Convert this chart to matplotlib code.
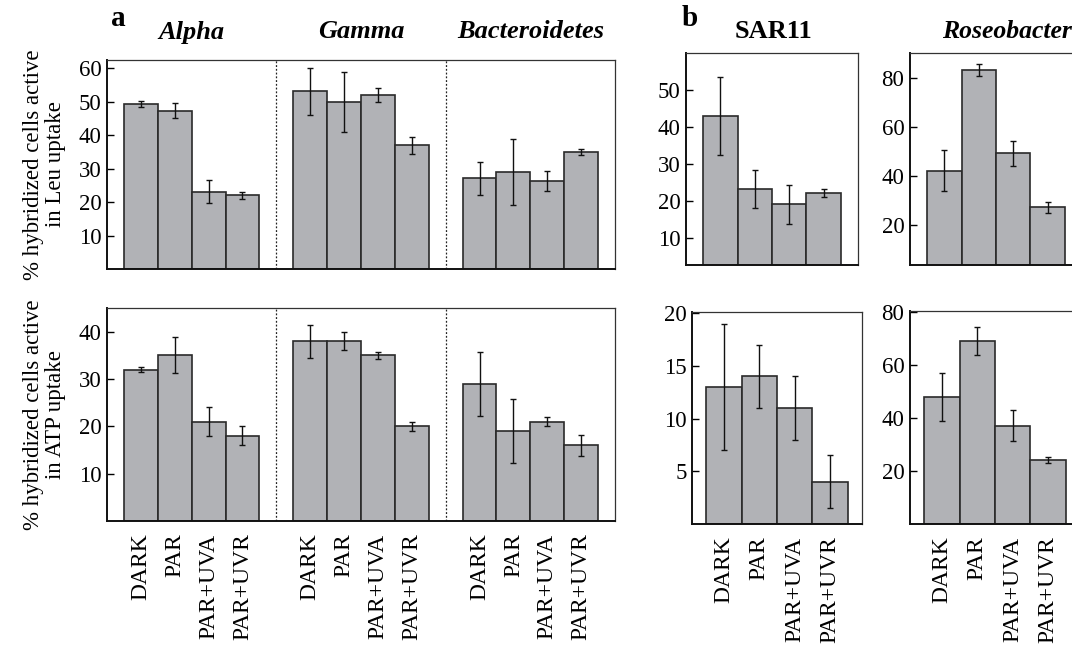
import numpy as np
import matplotlib
matplotlib.use("Agg")
import matplotlib.pyplot as plt
import matplotlib.transforms as mtransforms

plt.rcParams['font.family'] = ['Liberation Serif', 'DejaVu Serif']

# ---------------- data ----------------
treatments = ['DARK', 'PAR', 'PAR+UVA', 'PAR+UVR']
groups_a = ['Alpha', 'Gamma', 'Bacteroidetes']

leu_alpha = [49.3, 47.3, 23.1, 22.0]
leu_alpha_err = [1.0, 2.2, 3.5, 1.0]
leu_gamma = [53.2, 50.0, 52.0, 37.0]
leu_gamma_err = [7.0, 9.0, 2.0, 2.5]
leu_bact = [27.1, 29.0, 26.2, 35.0]
leu_bact_err = [5.0, 10.0, 3.0, 0.8]

atp_alpha = [32.0, 35.0, 21.0, 18.0]
atp_alpha_err = [0.6, 3.8, 3.0, 2.0]
atp_gamma = [38.0, 38.0, 35.0, 20.0]
atp_gamma_err = [3.5, 1.9, 0.7, 1.0]
atp_bact = [29.0, 19.0, 21.0, 16.0]
atp_bact_err = [6.8, 6.8, 1.0, 2.2]

leu_sar11 = [43.0, 23.1, 19.0, 22.1]
leu_sar11_err = [10.5, 5.1, 5.2, 1.2]
leu_roseo = [42.0, 83.0, 49.0, 27.0]
leu_roseo_err = [8.5, 2.4, 5.0, 2.2]

atp_sar11 = [13.0, 14.0, 11.0, 4.0]
atp_sar11_err = [6.0, 3.0, 3.0, 2.5]
atp_roseo = [48.0, 69.2, 37.2, 24.2]
atp_roseo_err = [9.2, 5.2, 5.9, 1.3]

# ---------------- style ----------------
BAR_COLOR = '#b1b2b6'
EDGE = '#2a2a2a'
W, H = 1072, 646

fig = plt.figure(figsize=(W / 100, H / 100), dpi=100)


def ax_px(x0, y0, x1, y1):
    return fig.add_axes([x0 / W, 1 - y1 / H, (x1 - x0) / W, (y1 - y0) / H])


def style(ax):
    for s in ['top', 'right']:
        ax.spines[s].set_linewidth(0.9)
        ax.spines[s].set_color('#333333')
    for s in ['left', 'bottom']:
        ax.spines[s].set_linewidth(1.4)
        ax.spines[s].set_color('#111111')
    ax.tick_params(axis='y', direction='in', length=5, width=1, labelsize=16.5, pad=4)
    ax.tick_params(axis='x', length=0, labelsize=17, pad=9)


def bars(ax, x, vals, errs):
    ax.bar(x, vals, width=1.0, color=BAR_COLOR, edgecolor=EDGE, linewidth=1.2, zorder=2)
    ax.errorbar(x, vals, yerr=errs, fmt='none', ecolor='#111111', elinewidth=1.0,
                capsize=2, capthick=1.0, zorder=3)


# ---------------- panel a ----------------
pos = [g * 5 + np.arange(4) for g in range(3)]
ax_top = ax_px(107, 60, 615, 269)
ax_bot = ax_px(107, 308, 615, 521)

for ax, series, ylim, yticks, lab in [
    (ax_top, [(leu_alpha, leu_alpha_err), (leu_gamma, leu_gamma_err), (leu_bact, leu_bact_err)],
     (0, 62.5), [10, 20, 30, 40, 50, 60], '% hybridized cells active\nin Leu uptake'),
    (ax_bot, [(atp_alpha, atp_alpha_err), (atp_gamma, atp_gamma_err), (atp_bact, atp_bact_err)],
     (0, 45), [10, 20, 30, 40], '% hybridized cells active\nin ATP uptake'),
]:
    for p, (v, e) in zip(pos, series):
        bars(ax, p, v, e)
    for sep in [4, 9]:
        ax.axvline(sep, color='#222222', linestyle=(0, (1.5, 1.5)), linewidth=0.9, zorder=1)
    ax.set_xlim(-1, 14)
    ax.set_ylim(*ylim)
    ax.set_yticks(yticks)
    style(ax)
    ax.set_ylabel(lab, fontsize=16.5, linespacing=1.05, labelpad=9)

ax_top.set_xticks([])
ax_bot.set_xticks(np.concatenate(pos))
ax_bot.set_xticklabels(treatments * 3, rotation=90, va='top', ha='center')

trans = mtransforms.blended_transform_factory(ax_top.transData, fig.transFigure)
for p, name in zip(pos, groups_a):
    fig.text(p.mean(), 1 - 32 / H, name, transform=trans, ha='center', va='center',
             fontsize=19, fontweight='bold', fontstyle='italic')

fig.text(118 / W, 1 - 18 / H, 'a', ha='center', va='center', fontsize=21, fontweight='bold')
fig.text(690 / W, 1 - 18 / H, 'b', ha='center', va='center', fontsize=21, fontweight='bold')

# ---------------- panel b ----------------
xb = np.arange(4)
ax_s1 = ax_px(686, 53, 858, 265)
ax_r1 = ax_px(910, 53, 1082, 265)
ax_s2 = ax_px(692, 312, 862, 524)
ax_r2 = ax_px(910, 311, 1080, 524)

for ax, v, e, ylim, yt in [
    (ax_s1, leu_sar11, leu_sar11_err, (2.6, 60), [10, 20, 30, 40, 50]),
    (ax_r1, leu_roseo, leu_roseo_err, (3.5, 90), [20, 40, 60, 80]),
    (ax_s2, atp_sar11, atp_sar11_err, (0, 20.1), [5, 10, 15, 20]),
    (ax_r2, atp_roseo, atp_roseo_err, (0, 80.5), [20, 40, 60, 80]),
]:
    bars(ax, xb, v, e)
    ax.set_xlim(-1, 4) if ax in (ax_s1, ax_r1) else ax.set_xlim(-0.9, 3.9)
    ax.set_ylim(*ylim)
    ax.set_yticks(yt)
    style(ax)

for ax in (ax_s1, ax_r1):
    ax.set_xticks([])
for ax in (ax_s2, ax_r2):
    ax.set_xticks(xb)
    ax.set_xticklabels(treatments, rotation=90, va='top', ha='center')

fig.text(773 / W, 1 - 32 / H, 'SAR11', ha='center', va='center', fontsize=19, fontweight='bold')
fig.text(1007 / W, 1 - 32 / H, 'Roseobacter', ha='center', va='center', fontsize=18.5,
         fontweight='bold', fontstyle='italic')

fig.savefig('out.png', dpi=100)
